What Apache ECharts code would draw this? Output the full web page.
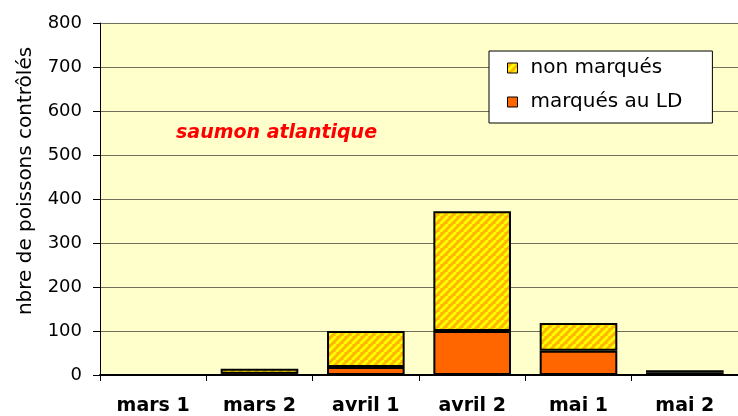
<!DOCTYPE html>
<html>
<head>
<meta charset="utf-8">
<script src="https://cdn.jsdelivr.net/npm/echarts@6/dist/echarts.min.js"></script>
<style>
html,body{margin:0;padding:0;background:#ffffff;}
#chart{width:738px;height:416px;}
</style>
</head>
<body>
<div id="chart"></div>
<script>
var categories = ['mars 1', 'mars 2', 'avril 1', 'avril 2', 'mai 1', 'mai 2'];
var marquesLD = [0, 3, 18, 100, 55, 6];
var nonMarques = [0, 11, 82, 272, 63, 5];
var yTicks = [0, 100, 200, 300, 400, 500, 600, 700, 800];
var seriesNames = ['non marqués', 'marqués au LD'];
var titleText = 'saumon atlantique';
var yAxisName = 'nbre de poissons contrôlés';

function makeHatch() {
  var s = 8;
  var c = document.createElement('canvas');
  c.width = s; c.height = s;
  var ctx = c.getContext('2d');
  ctx.fillStyle = '#FFB400';
  ctx.fillRect(0, 0, s, s);
  ctx.strokeStyle = '#FFFF00';
  ctx.lineWidth = 2.8;
  for (var x = -s; x <= s; x += s) {
    ctx.beginPath();
    ctx.moveTo(x, s);
    ctx.lineTo(x + s, 0);
    ctx.stroke();
  }
  return c;
}
var hatch = { image: makeHatch(), repeat: 'repeat' };

var chart = echarts.init(document.getElementById('chart'), null, { renderer: 'canvas' });
var font = 'DejaVu Sans';
chart.setOption({
  animation: false,
  backgroundColor: '#ffffff',
  title: {
    text: titleText,
    left: 176,
    top: 124,
    padding: 0,
    textStyle: { color: '#FF0000', fontFamily: font, fontSize: 19, fontWeight: 'bold', fontStyle: 'italic' }
  },
  legend: {
    orient: 'vertical',
    left: 489,
    top: 51,
    padding: [7, 30, 11, 18],
    itemGap: 14,
    itemWidth: 10,
    itemHeight: 10,
    backgroundColor: '#ffffff',
    borderColor: '#000000',
    borderWidth: 1,
    icon: 'rect',
    itemStyle: { borderColor: '#000', borderWidth: 1 },
    data: [
      { name: seriesNames[0], itemStyle: { color: hatch, borderColor: '#000', borderWidth: 1 } },
      { name: seriesNames[1], itemStyle: { color: '#FF6600', borderColor: '#000', borderWidth: 1 } }
    ],
    textStyle: { fontFamily: font, fontSize: 20, color: '#000', lineHeight: 20, padding: [0, 0, 0, 8] }
  },
  grid: {
    left: 100, top: 23, width: 648, height: 352,
    show: true, backgroundColor: '#FFFFCC', borderWidth: 0
  },
  xAxis: {
    type: 'category',
    data: categories,
    axisLine: { lineStyle: { color: '#000', width: 2 } },
    axisTick: { show: true, length: 6, lineStyle: { color: '#000', width: 1 } },
    axisLabel: { fontFamily: font, fontSize: 19, fontWeight: 'bold', color: '#000', margin: 22 }
  },
  yAxis: {
    type: 'value',
    min: yTicks[0],
    max: yTicks[yTicks.length - 1],
    interval: yTicks[1] - yTicks[0],
    name: yAxisName,
    nameLocation: 'middle',
    nameRotate: 90,
    nameGap: 64,
    nameTextStyle: { fontFamily: font, fontSize: 20, color: '#000', padding: [0, 0, 0, 36] },
    axisLine: { show: true, lineStyle: { color: '#000', width: 1 } },
    axisTick: { show: true, length: 7, lineStyle: { color: '#000' } },
    axisLabel: { fontFamily: font, fontSize: 18, color: '#000', margin: 18 },
    splitLine: { show: true, lineStyle: { color: '#6f6f5a', width: 1 } }
  },
  series: [
    {
      name: seriesNames[1],
      type: 'bar',
      stack: 'total',
      data: marquesLD,
      barCategoryGap: '27%',
      itemStyle: { color: '#FF6600', borderColor: '#000', borderWidth: 2 }
    },
    {
      name: seriesNames[0],
      type: 'bar',
      stack: 'total',
      data: nonMarques,
      barCategoryGap: '27%',
      itemStyle: { color: hatch, borderColor: '#000', borderWidth: 2 }
    }
  ]
});
</script>
</body>
</html>
